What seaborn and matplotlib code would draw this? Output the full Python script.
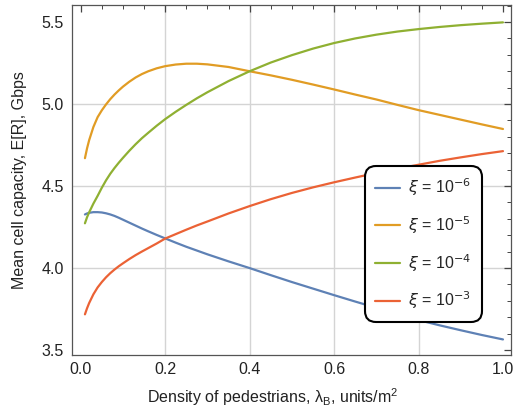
# Mean cell capacity vs density of pedestrians, four values of xi
import numpy as np
import pandas as pd
import matplotlib
matplotlib.use("Agg")
import matplotlib.pyplot as plt
import seaborn as sns
from matplotlib.ticker import MultipleLocator, FormatStrFormatter

# === Data ===
density = [0.01, 0.015, 0.02, 0.03, 0.04, 0.05, 0.06, 0.07, 0.08, 0.09,
           0.10, 0.115, 0.13, 0.145, 0.16, 0.18, 0.20, 0.225, 0.25, 0.275,
           0.30, 0.35, 0.40, 0.45, 0.50, 0.55, 0.60, 0.65, 0.70, 0.75,
           0.80, 0.85, 0.90, 0.95, 1.00]
cap_xi6 = [4.327, 4.333, 4.337, 4.341, 4.341, 4.339, 4.334, 4.327, 4.318, 4.307,
           4.295, 4.277, 4.259, 4.241, 4.224, 4.202, 4.181, 4.155, 4.130, 4.107,
           4.084, 4.041, 4.000, 3.957, 3.915, 3.875, 3.835, 3.796, 3.758, 3.720,
           3.683, 3.651, 3.621, 3.592, 3.565]
cap_xi5 = [4.670, 4.730, 4.780, 4.860, 4.920, 4.962, 4.998, 5.030, 5.058, 5.083,
           5.106, 5.136, 5.162, 5.183, 5.200, 5.218, 5.231, 5.241, 5.246, 5.246,
           5.242, 5.226, 5.200, 5.175, 5.148, 5.119, 5.089, 5.058, 5.028, 4.995,
           4.963, 4.934, 4.905, 4.876, 4.848]
cap_xi4 = [4.273, 4.310, 4.340, 4.393, 4.440, 4.490, 4.535, 4.575, 4.610, 4.642,
           4.672, 4.715, 4.755, 4.792, 4.825, 4.868, 4.908, 4.953, 4.995, 5.035,
           5.072, 5.140, 5.200, 5.253, 5.298, 5.338, 5.372, 5.400, 5.423, 5.442,
           5.457, 5.470, 5.481, 5.490, 5.498]
cap_xi3 = [3.718, 3.755, 3.787, 3.840, 3.882, 3.915, 3.944, 3.969, 3.991, 4.011,
           4.029, 4.055, 4.079, 4.101, 4.122, 4.150, 4.180, 4.207, 4.234, 4.260,
           4.284, 4.333, 4.378, 4.420, 4.458, 4.492, 4.523, 4.552, 4.580, 4.606,
           4.630, 4.654, 4.675, 4.695, 4.713]
labels = [r"$\xi$ = 10$^{-6}$", r"$\xi$ = 10$^{-5}$",
          r"$\xi$ = 10$^{-4}$", r"$\xi$ = 10$^{-3}$"]
colors = ["#5E81B5", "#E19C24", "#8FB032", "#EB6235"]

df = pd.concat([
    pd.DataFrame({"density": density, "cap": vals, "xi": lab})
    for vals, lab in zip([cap_xi6, cap_xi5, cap_xi4, cap_xi3], labels)
])

# === Style ===
sns.set_style("white")
plt.rcParams["font.family"] = ["Liberation Sans", "DejaVu Sans"]
plt.rcParams["mathtext.fontset"] = "dejavusans"

fig = plt.figure(figsize=(5.28, 4.12), dpi=100)
ax = fig.add_axes([0.1364, 0.1383, 0.8314, 0.8496])

# grid only at the inner positions
for gx in [0.2, 0.4, 0.6, 0.8]:
    ax.axvline(gx, color="#d4d4d4", lw=1.0, zorder=0)
for gy in [4.0, 4.5, 5.0]:
    ax.axhline(gy, color="#d4d4d4", lw=1.0, zorder=0)

sns.lineplot(data=df, x="density", y="cap", hue="xi", palette=colors,
             linewidth=1.6, ax=ax, sort=False)

ax.set_xlim(-0.0206, 1.019)
ax.set_ylim(3.47, 5.604)
ax.xaxis.set_major_locator(MultipleLocator(0.2))
ax.xaxis.set_minor_locator(MultipleLocator(0.05))
ax.yaxis.set_major_locator(MultipleLocator(0.5))
ax.yaxis.set_minor_locator(MultipleLocator(0.1))
ax.xaxis.set_major_formatter(FormatStrFormatter("%.1f"))
ax.yaxis.set_major_formatter(FormatStrFormatter("%.1f"))
ax.tick_params(which="both", direction="in", top=True, right=True,
               color="#444444", labelsize=11.5, labelcolor="#222222")
ax.tick_params(which="major", length=5, width=0.9)
ax.tick_params(axis="y", which="major", pad=6)
ax.tick_params(axis="x", which="major", pad=5)
ax.tick_params(which="minor", length=2.8, width=0.7)
for sp in ax.spines.values():
    sp.set_color("#555555")
    sp.set_linewidth(0.9)

ax.set_xlabel("Density of pedestrians, λ$_{\\mathregular{B}}$, units/m$^{\\mathregular{2}}$",
              fontsize=11.5, color="#222222")
ax.set_ylabel("Mean cell capacity, E[R], Gbps", fontsize=11.5, color="#222222")
ax.xaxis.set_label_coords(0.458, -0.09)
ax.yaxis.set_label_coords(-0.103, 0.5)

leg = ax.legend(loc="center", bbox_to_anchor=(0.80, 0.317),
                fontsize=11.5, labelspacing=1.0, handlelength=1.6,
                handletextpad=0.5, borderpad=0.65, frameon=True, fancybox=True,
                framealpha=1.0)
frame = leg.get_frame()
frame.set_edgecolor("black")
frame.set_linewidth(1.5)
frame.set_boxstyle("round,pad=0,rounding_size=0.7")
for line in leg.get_lines():
    line.set_linewidth(1.6)

fig.savefig("out.png", dpi=100)
